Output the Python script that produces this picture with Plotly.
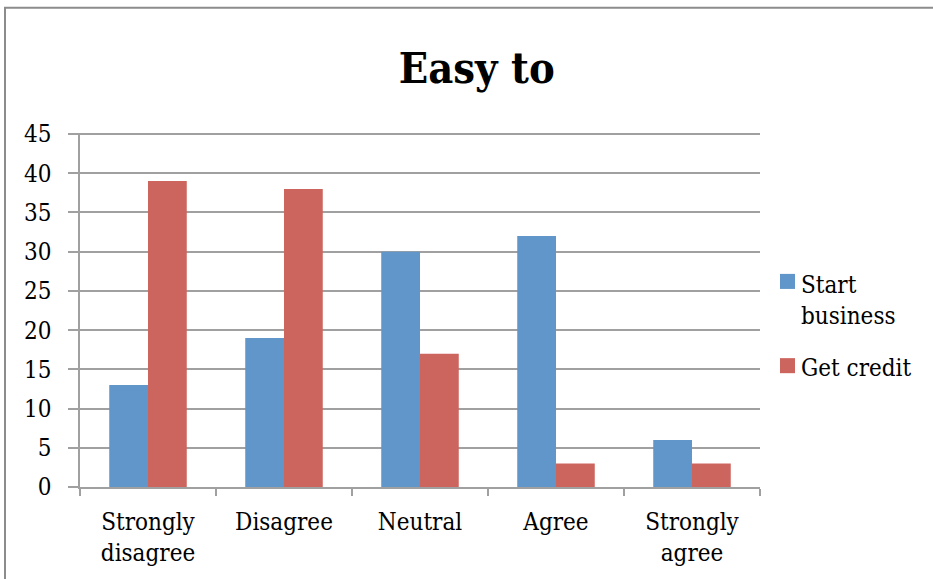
import plotly.graph_objects as go

categories = ["Strongly<br>disagree", "Disagree", "Neutral", "Agree", "Strongly<br>agree"]
start_business = [13, 19, 30, 32, 6]
get_credit = [39, 38, 17, 3, 3]
series_names = ["Start<br>business", "Get credit"]

FONT = "DejaVu Serif Condensed, DejaVu Serif"
BLUE = "#6096C9"
RED = "#CD655F"
GRID = "#A0A0A0"

# plot-area geometry in pixels, used to place the frame and legend
L, R, T, B = 80, 760, 134, 487
W, H = R - L, B - T


def px_x(p):
    return (p - L) / W


def px_y(p):
    return (B - p) / H


fig = go.Figure()
fig.add_trace(go.Bar(x=categories, y=start_business, name=series_names[0],
                     marker=dict(color=BLUE, line=dict(width=0)), showlegend=False))
fig.add_trace(go.Bar(x=categories, y=get_credit, name=series_names[1],
                     marker=dict(color=RED, line=dict(width=0)), showlegend=False))

shapes = [dict(type="rect", xref="paper", yref="paper",
               x0=px_x(5), x1=2, y0=-1, y1=px_y(9),
               line=dict(color="#8C8C8C", width=2), fillcolor="rgba(0,0,0,0)",
               layer="below")]
annotations = []

# legend: colour swatch plus label for each series
legend_rows = [(BLUE, series_names[0], 282, 301), (RED, series_names[1], 366, 368)]
for color, label, sq_mid, text_mid in legend_rows:
    shapes.append(dict(type="rect", xref="paper", yref="paper",
                       x0=px_x(780), x1=px_x(795), y0=px_y(sq_mid + 7.5), y1=px_y(sq_mid - 7.5),
                       line=dict(width=0), fillcolor=color))
    annotations.append(dict(xref="paper", yref="paper", x=px_x(799), y=px_y(text_mid),
                            xanchor="left", yanchor="middle", showarrow=False, align="left",
                            text=label, font=dict(family=FONT, size=24, color="black")))

fig.update_layout(
    width=933, height=579,
    margin=dict(l=L, r=933 - R, t=T - 1, b=579 - B, autoexpand=False),
    paper_bgcolor="white", plot_bgcolor="white",
    barmode="group", bargap=0.43, bargroupgap=0,
    font=dict(family=FONT, size=24, color="black"),
    title=dict(text="<b>Easy to</b>", x=0.511, xref="container", xanchor="center",
               y=1 - 68 / 579, yref="container", yanchor="middle",
               font=dict(family=FONT, size=43, color="black")),
    xaxis=dict(type="category", range=[-0.5, 4.5], tickson="boundaries",
               ticks="outside", ticklen=7, tickcolor=GRID, tickwidth=1.5,
               showline=True, linecolor=GRID, linewidth=1.5, showgrid=False,
               ticklabelstandoff=12, tickfont=dict(family=FONT, size=24)),
    yaxis=dict(range=[0, 45.13], dtick=5, tick0=0,
               ticks="outside", ticklen=10, tickcolor=GRID, tickwidth=1.5,
               showline=True, linecolor=GRID, linewidth=1.5,
               showgrid=True, gridcolor=GRID, gridwidth=1.5,
               zeroline=False, ticklabelstandoff=12, tickfont=dict(family=FONT, size=24)),
    shapes=shapes,
    annotations=annotations,
)

fig.write_html("out.html")
